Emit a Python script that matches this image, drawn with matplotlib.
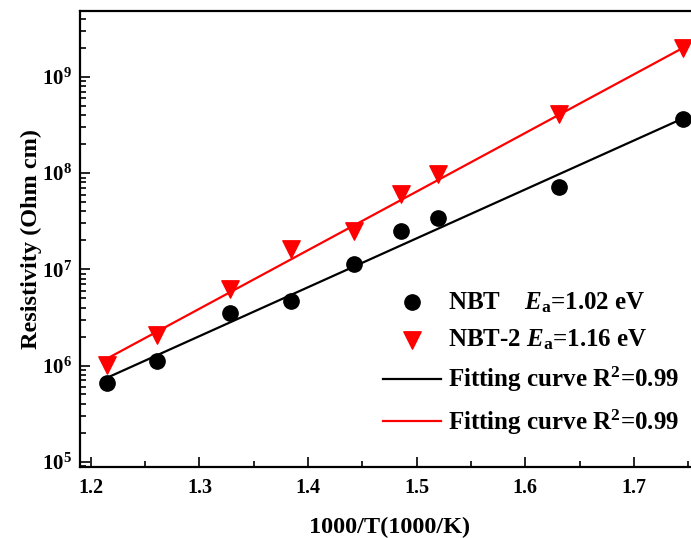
import math
import matplotlib
matplotlib.use("Agg")
import matplotlib.pyplot as plt
from matplotlib.ticker import LogLocator, FixedLocator, MultipleLocator, FuncFormatter, NullFormatter

# 1000/T values shared by both samples
inv_t = [1.215, 1.261, 1.3285, 1.3844, 1.4427, 1.486, 1.5198, 1.6308, 1.745]

# resistivity (Ohm cm)
rho_nbt = [6.6e5, 1.11e6, 3.5e6, 4.7e6, 1.13e7, 2.5e7, 3.45e7, 7.1e7, 3.7e8]
rho_nbt2 = [1.02e6, 2.1e6, 6.2e6, 1.62e7, 2.52e7, 6.1e7, 9.8e7, 4.15e8, 2.0e9]

# Arrhenius fit end points
fit_x = [1.213, 1.745]
fit_nbt = [7.3e5, 3.7e8]
fit_nbt2 = [1.15e6, 2.0e9]

x_ticks = [1.2, 1.3, 1.4, 1.5, 1.6, 1.7]

plt.rcParams["font.family"] = "Liberation Serif"
plt.rcParams["font.weight"] = "bold"
plt.rcParams["axes.labelweight"] = "bold"
plt.rcParams["mathtext.fontset"] = "custom"
plt.rcParams["mathtext.rm"] = "Liberation Serif:bold"
plt.rcParams["mathtext.bf"] = "Liberation Serif:bold"
plt.rcParams["mathtext.it"] = "Liberation Serif:italic:bold"

fig = plt.figure(figsize=(6.91, 5.38), dpi=100)
ax = fig.add_axes([80 / 691, 70.7 / 538, 619 / 691, 456.3 / 538])

ax.scatter(inv_t, rho_nbt, s=11 ** 2, marker="o", color="black", zorder=3,
           label="NBT    $\\mathit{E}_\\mathbf{a}$=1.02 eV")
ax.scatter(inv_t, rho_nbt2, s=12.5 ** 2, marker="v", color="red", zorder=3,
           label="NBT-2 $\\mathit{E}_\\mathbf{a}$=1.16 eV")
ax.plot(fit_x, fit_nbt, color="black", lw=1.6,
        label="Fitting curve R$^\\mathbf{2}$=0.99")
ax.plot(fit_x, fit_nbt2, color="red", lw=1.6,
        label="Fitting curve R$^\\mathbf{2}$=0.99")

ax.set_yscale("log")
ax.set_xlim(1.19, 1.76)
ax.set_ylim(10 ** 4.942, 10 ** 9.686)

ax.xaxis.set_major_locator(FixedLocator(x_ticks))
ax.xaxis.set_minor_locator(MultipleLocator(0.05))
ax.yaxis.set_major_locator(LogLocator(base=10, numticks=10))
ax.yaxis.set_minor_locator(LogLocator(base=10, subs=range(2, 10), numticks=20))
ax.yaxis.set_minor_formatter(NullFormatter())
ax.yaxis.set_major_formatter(FuncFormatter(lambda v, p: "$\\mathbf{10^{%d}}$" % round(math.log10(v))))

ax.tick_params(which="both", direction="in", top=False, right=False, width=1.2)
ax.tick_params(which="major", length=7)
ax.tick_params(which="minor", length=4)
ax.tick_params(axis="x", which="major", labelsize=14.5, pad=8)
ax.tick_params(axis="y", which="major", labelsize=15, pad=6)
for lbl in ax.get_xticklabels() + ax.get_yticklabels():
    lbl.set_fontweight("bold")
for sp in ax.spines.values():
    sp.set_linewidth(1.6)

ax.set_xlabel("1000/T(1000/K)", fontsize=17.5, fontweight="bold", labelpad=13)
ax.set_ylabel("Resistivity (Ohm cm)", fontsize=17.5, fontweight="bold", labelpad=0)

ax.legend(loc="upper left", bbox_to_anchor=(383 / 691, 1 - 290 / 538),
          bbox_transform=fig.transFigure, frameon=False, fontsize=18,
          handlelength=2.3, handletextpad=0.3, labelspacing=0.52,
          borderpad=0, borderaxespad=0, scatterpoints=1)

fig.savefig("out.png", dpi=100)
